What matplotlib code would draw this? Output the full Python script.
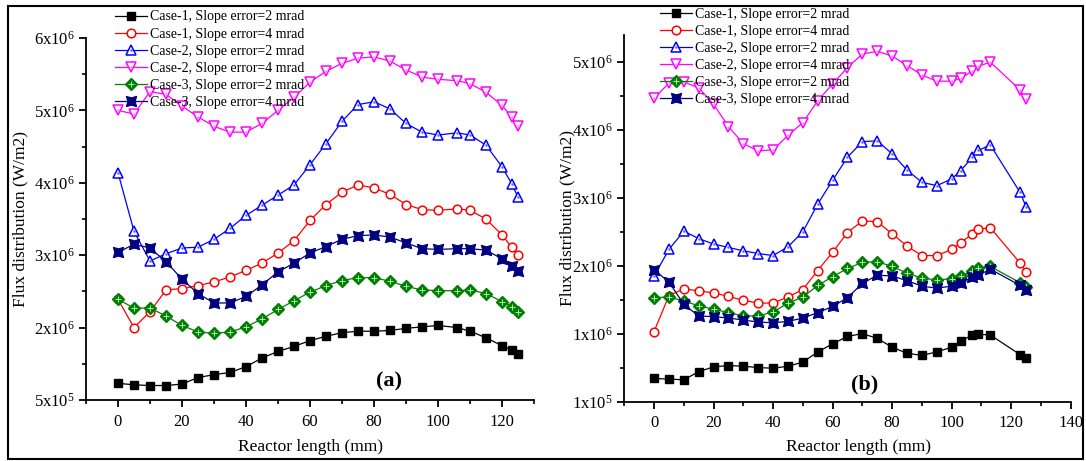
import numpy as np
import matplotlib
matplotlib.use("Agg")
import matplotlib.pyplot as plt
from matplotlib.patches import Rectangle
from matplotlib.legend_handler import HandlerTuple
from matplotlib.ticker import FixedLocator, FixedFormatter, MultipleLocator

plt.rcParams["font.family"] = ["Liberation Serif", "DejaVu Serif"]
plt.rcParams["mathtext.fontset"] = "custom"
plt.rcParams["mathtext.rm"] = "Liberation Serif"
plt.rcParams["mathtext.it"] = "Liberation Serif:italic"

# ---------------- data (flux in units of 1e6 W/m2) ----------------
labels = ["Case-1, Slope error=2 mrad", "Case-1, Slope error=4 mrad",
          "Case-2, Slope error=2 mrad", "Case-2, Slope error=4 mrad",
          "Case-3, Slope error=2 mrad", "Case-3, Slope error=4 mrad"]

x_a = [0, 5, 10, 15, 20, 25, 30, 35, 40, 45, 50, 55, 60, 65, 70, 75, 80, 85,
       90, 95, 100, 106, 110, 115, 120, 123, 125]
case1_2_a = [1.23, 1.21, 1.20, 1.20, 1.22, 1.31, 1.35, 1.38, 1.46, 1.58, 1.67, 1.74, 1.82, 1.88,
             1.93, 1.95, 1.95, 1.96, 1.99, 2.01, 2.03, 2.00, 1.95, 1.86, 1.75, 1.69, 1.64]
case1_4_a = [2.39, 2.00, 2.22, 2.52, 2.54, 2.58, 2.63, 2.70, 2.79, 2.89, 3.03, 3.20, 3.48, 3.70,
             3.87, 3.97, 3.93, 3.84, 3.70, 3.63, 3.62, 3.64, 3.62, 3.50, 3.28, 3.11, 3.00]
case2_2_a = [4.14, 3.33, 2.92, 3.02, 3.10, 3.11, 3.22, 3.37, 3.55, 3.69, 3.83, 3.97, 4.25, 4.54,
             4.85, 5.08, 5.12, 5.02, 4.82, 4.70, 4.66, 4.69, 4.66, 4.52, 4.22, 3.99, 3.80]
case2_4_a = [5.00, 4.95, 5.26, 5.22, 5.06, 4.91, 4.78, 4.70, 4.70, 4.82, 5.00, 5.18, 5.39, 5.54,
             5.65, 5.72, 5.74, 5.68, 5.56, 5.46, 5.43, 5.41, 5.37, 5.25, 5.07, 4.91, 4.78]
case3_2_a = [2.39, 2.27, 2.27, 2.16, 2.03, 1.94, 1.92, 1.94, 2.01, 2.12, 2.25, 2.37, 2.49, 2.58,
             2.65, 2.69, 2.69, 2.64, 2.57, 2.52, 2.51, 2.51, 2.52, 2.47, 2.36, 2.29, 2.22]
case3_4_a = [3.04, 3.15, 3.10, 2.91, 2.67, 2.47, 2.34, 2.34, 2.43, 2.59, 2.77, 2.89, 3.03, 3.12,
             3.22, 3.27, 3.28, 3.25, 3.17, 3.09, 3.08, 3.09, 3.09, 3.07, 2.95, 2.85, 2.78]

x_b = [0, 5, 10, 15, 20, 25, 30, 35, 40, 45, 50, 55, 60, 65, 70, 75, 80, 85,
       90, 95, 100, 103, 107, 109, 113, 123, 125]
case1_2_b = [0.34, 0.33, 0.32, 0.44, 0.51, 0.53, 0.52, 0.50, 0.49, 0.52, 0.58, 0.73, 0.85, 0.96,
             1.00, 0.93, 0.80, 0.71, 0.68, 0.73, 0.80, 0.89, 0.98, 0.99, 0.98, 0.69, 0.64]
case1_4_b = [1.03, 1.56, 1.66, 1.63, 1.60, 1.55, 1.49, 1.45, 1.45, 1.54, 1.65, 1.93, 2.20, 2.49,
             2.66, 2.65, 2.47, 2.29, 2.15, 2.15, 2.24, 2.34, 2.47, 2.54, 2.56, 2.04, 1.91]
case2_2_b = [1.85, 2.24, 2.51, 2.40, 2.32, 2.27, 2.22, 2.18, 2.15, 2.28, 2.50, 2.91, 3.26, 3.60,
             3.83, 3.84, 3.65, 3.41, 3.23, 3.18, 3.28, 3.40, 3.60, 3.70, 3.78, 3.08, 2.87]
case2_4_b = [4.47, 4.69, 4.71, 4.62, 4.38, 4.05, 3.80, 3.69, 3.71, 3.92, 4.11, 4.43, 4.68, 4.92,
             5.12, 5.16, 5.09, 4.95, 4.81, 4.72, 4.72, 4.76, 4.87, 4.94, 5.00, 4.59, 4.45]
case3_2_b = [1.53, 1.54, 1.48, 1.41, 1.36, 1.31, 1.26, 1.26, 1.32, 1.45, 1.54, 1.71, 1.84, 1.96,
             2.05, 2.06, 1.99, 1.89, 1.82, 1.79, 1.81, 1.85, 1.92, 1.97, 1.99, 1.75, 1.69]
case3_4_b = [1.94, 1.76, 1.43, 1.26, 1.25, 1.23, 1.20, 1.17, 1.16, 1.18, 1.23, 1.31, 1.40, 1.53,
             1.74, 1.86, 1.85, 1.78, 1.70, 1.67, 1.70, 1.75, 1.83, 1.86, 1.95, 1.71, 1.64]

yticks_a = [1, 2, 3, 4, 5, 6]
yticklabels_a = [r"5x10$^{5}$", r"2x10$^{6}$", r"3x10$^{6}$", r"4x10$^{6}$", r"5x10$^{6}$", r"6x10$^{6}$"]
yticks_b = [0, 1, 2, 3, 4, 5]
yticklabels_b = [r"1x10$^{5}$", r"1x10$^{6}$", r"2x10$^{6}$", r"3x10$^{6}$", r"4x10$^{6}$", r"5x10$^{6}$"]
xticks_a = [0, 20, 40, 60, 80, 100, 120]
xticks_b = [0, 20, 40, 60, 80, 100, 120, 140]

SCALE = 1e6

# ---------------- styles ----------------
STAR = (4, 1, 45)
styles = [
    dict(color="black", marker="s", ms=6.0, mfc="black", mec="black"),
    dict(color="red", marker="o", ms=6.2, mfc="white", mec="red", mew=1.1),
    dict(color="blue", marker="^", ms=7.0, mfc="white", mec="blue", mew=1.1),
    dict(color="magenta", marker="v", ms=7.0, mfc="white", mec="magenta", mew=1.1),
    dict(color="green", marker="D", ms=5.8, mfc="green", mec="green"),
    dict(color="#000080", marker=STAR, ms=10.5, mfc="#000080", mec="#000080", mew=0.8),
]
# small inner details drawn on top of some markers
inner = [None, None,
         dict(marker=".", ms=1.6, color="#6060ff"),
         dict(marker=".", ms=1.6, color="#ff80ff"),
         dict(marker="+", ms=4.5, mew=0.7, color="#b8e8b8"),
         None]

fig = plt.figure(figsize=(10.86, 4.61), dpi=100)
W, H = 1086.0, 461.0


def draw_panel(ax, x, series):
    handles = []
    for y, st, inn in zip(series, styles, inner):
        yv = np.asarray(y) * SCALE
        line, = ax.plot(x, yv, lw=0.9, clip_on=False, **st)
        if inn is not None:
            dot, = ax.plot(x, yv, ls="none", clip_on=False, **inn)
            handles.append((line, dot))
        else:
            handles.append((line,))
    return handles


def style_axes(ax, xlim, xticks, ylim, yticks, yticklabels):
    for s in ("top", "right"):
        ax.spines[s].set_visible(False)
    for s in ("left", "bottom"):
        ax.spines[s].set_linewidth(1.3)
    ax.set_xlim(*xlim)
    ax.set_ylim(ylim[0] * SCALE, ylim[1] * SCALE)
    ax.xaxis.set_major_locator(FixedLocator(xticks))
    ax.xaxis.set_minor_locator(MultipleLocator(10))
    ax.yaxis.set_major_locator(FixedLocator([v * SCALE for v in yticks]))
    ax.yaxis.set_major_formatter(FixedFormatter(yticklabels))
    ax.yaxis.set_minor_locator(FixedLocator([(v + 0.5) * SCALE for v in yticks]))
    ax.tick_params(which="major", direction="out", length=5, width=1.3, labelsize=12, pad=3)
    ax.tick_params(which="minor", direction="out", length=3, width=1.2)
    ax.tick_params(axis="x", which="major", pad=5)
    ax.set_xlabel("Reactor length (mm)", fontsize=12.5)
    ax.set_ylabel("Flux distribution (W/m2)", fontsize=12.5)


# panel (a)
ax1 = fig.add_axes([86 / W, (H - 400) / H, 448 / W, 362 / H])
series_a = [case1_2_a, case1_4_a, case2_2_a, case2_4_a, case3_2_a, case3_4_a]
h1 = draw_panel(ax1, x_a, series_a)
style_axes(ax1, (-10, 130), xticks_a, (1, 6), yticks_a, yticklabels_a)
ax1.yaxis.set_label_coords((28 - 86) / 448, 0.5)
ax1.xaxis.set_label_coords(0.5, (400 - 439) / 362)
ax1.text(0.676, 0.05, "(a)", transform=ax1.transAxes, ha="center", va="center",
         fontsize=16, fontweight="bold")

# panel (b)
ax2 = fig.add_axes([624.3 / W, (H - 401.5) / H, 446.4 / W, 366.5 / H])
series_b = [case1_2_b, case1_4_b, case2_2_b, case2_4_b, case3_2_b, case3_4_b]
h2 = draw_panel(ax2, x_b, series_b)
style_axes(ax2, (-10, 140), xticks_b, (0, 5.4), yticks_b, yticklabels_b)
ax2.yaxis.set_label_coords((575 - 624.3) / 446.4, 0.5)
ax2.xaxis.set_label_coords(0.525, (401.5 - 439) / 366.5)
ax2.text(0.538, 0.047, "(b)", transform=ax2.transAxes, ha="center", va="center",
         fontsize=16, fontweight="bold")

legend_kw = dict(loc="upper left", frameon=False, fontsize=10, borderpad=0, borderaxespad=0,
                 handlelength=2.3, handletextpad=0.2, labelspacing=0.29, numpoints=1,
                 handler_map={tuple: HandlerTuple(ndivide=1, pad=0)},
                 bbox_transform=fig.transFigure)
ax1.legend(h1, labels, bbox_to_anchor=(115 / W, 1 - 10.5 / H), **legend_kw)
ax2.legend(h2, labels, bbox_to_anchor=(660 / W, 1 - 8.0 / H), **legend_kw)

# outer frame around the whole figure
fig.add_artist(Rectangle((7.5 / W, 2 / H), (1083 - 7.5) / W, (459 - 6) / H,
                         transform=fig.transFigure, fill=False, lw=1.5, ec="black"))

fig.savefig("out.png", dpi=100)
